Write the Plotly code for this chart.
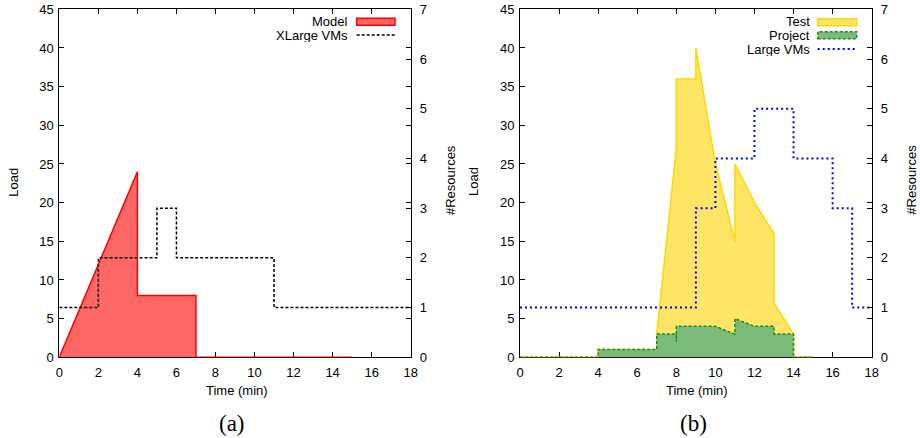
import plotly.graph_objects as go

# ---------------- data ----------------
# panel (a)
model_t = [0, 4, 4, 7, 7, 15]
model_load = [0, 24, 8, 8, 0, 0]
xlarge_t = [0, 2, 5, 6, 11, 18]
xlarge_vms = [1, 2, 3, 2, 1, 1]

# panel (b)
test_t = [0, 4, 4, 7, 7, 8, 8, 9, 9, 10, 11, 11, 12, 13, 13, 14, 14, 15]
test_load = [0, 0, 1, 1, 3, 27, 36, 36, 40, 25, 15, 25, 20, 16, 7, 3, 0, 0]
project_t = [0, 4, 4, 7, 7, 8, 8, 8, 10, 11, 11, 12, 13, 13, 14, 14, 15]
project_load = [0, 0, 1, 1, 3, 3, 2, 4, 4, 3, 5, 4, 4, 3, 3, 0, 0]
large_t = [0, 9, 10, 12, 14, 16, 17, 18]
large_vms = [1, 3, 4, 5, 4, 3, 1, 1]

x_ticks = list(range(0, 19, 2))
load_ticks = list(range(0, 46, 5))
res_ticks = list(range(0, 8))

# ---------------- layout helpers ----------------
W, H = 920, 438
FONT = "Liberation Sans, Arial, Helvetica, sans-serif"
SERIF = "Liberation Serif, Times New Roman, serif"


def px(x):
    return x / W


def py(y):
    return 1 - y / H


PLOT_TOP, PLOT_BOT = 9.3, 357.3
A_L, A_R = 59.3, 410.7
B_L, B_R = 520.0, 871.7

RED_LINE = "#ff0000"
RED_FILL = "#ff6666"
GOLD_LINE = "#ffd700"
GOLD_FILL = "#ffe566"
GREEN_LINE = "#1f8a1f"
GREEN_FILL = "#7aba7a"
BLUE = "#0000ff"

fig = go.Figure()

fig.add_trace(go.Scatter(x=model_t, y=model_load, mode="lines", fill="tozeroy",
                         fillcolor=RED_FILL, line=dict(color=RED_LINE, width=1.5),
                         xaxis="x", yaxis="y", showlegend=False))
fig.add_trace(go.Scatter(x=xlarge_t, y=xlarge_vms, mode="lines",
                         line=dict(color="black", width=1.5, dash="3px,2px", shape="hv"),
                         xaxis="x", yaxis="y2", showlegend=False))

fig.add_trace(go.Scatter(x=test_t, y=test_load, mode="lines", fill="tozeroy",
                         fillcolor=GOLD_FILL, line=dict(color=GOLD_LINE, width=1.5),
                         xaxis="x2", yaxis="y3", showlegend=False))
fig.add_trace(go.Scatter(x=project_t, y=project_load, mode="lines", fill="tozeroy",
                         fillcolor=GREEN_FILL,
                         line=dict(color=GREEN_LINE, width=1.5, dash="3px,2px"),
                         xaxis="x2", yaxis="y3", showlegend=False))
fig.add_trace(go.Scatter(x=large_t, y=large_vms, mode="lines",
                         line=dict(color=BLUE, width=2, dash="2px,3px", shape="hv"),
                         xaxis="x2", yaxis="y4", showlegend=False))

ydom = [py(PLOT_BOT), py(PLOT_TOP)]
tickfont = dict(family=FONT, size=13, color="black")

common_x = dict(range=[0, 18], tickvals=x_ticks, ticks="inside", ticklen=5,
                showline=True, linecolor="black", linewidth=1, mirror="ticks",
                showgrid=False, zeroline=False, tickfont=tickfont, layer="below traces",
                automargin=False, tickcolor="black", ticklabelstandoff=3)
common_y = dict(range=[0, 45], tickvals=load_ticks, ticks="inside", ticklen=5,
                showline=True, linecolor="black", linewidth=1, mirror="ticks",
                showgrid=False, zeroline=False, tickfont=tickfont, domain=ydom,
                layer="below traces", automargin=False, tickcolor="black",
                ticklabelstandoff=2)
common_y2 = dict(range=[0, 7], tickvals=res_ticks, ticks="inside", ticklen=5,
                 side="right", showline=False, showgrid=False, zeroline=False,
                 tickfont=tickfont, layer="below traces", automargin=False,
                 tickcolor="black", ticklabelstandoff=8)

fig.update_layout(
    template="none",
    width=W, height=H,
    margin=dict(l=0, r=0, t=0, b=0),
    paper_bgcolor="white", plot_bgcolor="white",
    showlegend=False,
    xaxis=dict(domain=[px(A_L), px(A_R)], anchor="y", **common_x),
    yaxis=dict(anchor="x", **common_y),
    yaxis2=dict(overlaying="y", anchor="x", **common_y2),
    xaxis2=dict(domain=[px(B_L), px(B_R)], anchor="y3", **common_x),
    yaxis3=dict(anchor="x2", **common_y),
    yaxis4=dict(overlaying="y3", anchor="x2", **common_y2),
)

ann = []
shapes = []


def text(x, y, s, size=13, family=FONT, angle=0, xanchor="center", height=None):
    a = dict(x=px(x), y=py(y), xref="paper", yref="paper", text=s,
             showarrow=False, textangle=angle, xanchor=xanchor, yanchor="middle",
             font=dict(family=family, size=size, color="black"))
    if height is not None:
        a.update(height=height, borderpad=0, valign="middle")
    ann.append(a)


# axis titles
text(236.7, 390, "Time (min)")
text(697, 390, "Time (min)")
text(12.7, 182, "Load", angle=-90)
text(473, 182, "Load", angle=-90)
text(450, 180, "#Resources", angle=-90)
text(910.7, 180, "#Resources", angle=-90)
# panel captions
text(232, 423, "(a)", size=23, family=SERIF)
text(693, 423, "(b)", size=23, family=SERIF)

# legends (drawn manually to mimic gnuplot key)
LH = 13
text(348.5, 21.2, "Model", xanchor="right", height=LH)
text(348.5, 35.6, "XLarge VMs", xanchor="right", height=LH)
shapes.append(dict(type="rect", xref="paper", yref="paper",
                   x0=px(356.7), x1=px(395), y0=py(25.3), y1=py(18.3),
                   fillcolor=RED_FILL, line=dict(color=RED_LINE, width=1.5)))
shapes.append(dict(type="line", xref="paper", yref="paper",
                   x0=px(356.7), x1=px(395), y0=py(35), y1=py(35),
                   line=dict(color="black", width=1.5, dash="3px,2px")))

text(810.5, 21.2, "Test", xanchor="right", height=LH)
text(810.5, 35.6, "Project", xanchor="right", height=LH)
text(810.5, 49.2, "Large VMs", xanchor="right", height=LH)
shapes.append(dict(type="rect", xref="paper", yref="paper",
                   x0=px(817.7), x1=px(856.7), y0=py(25.8), y1=py(18.8),
                   fillcolor=GOLD_FILL, line=dict(color=GOLD_LINE, width=1.5)))
shapes.append(dict(type="rect", xref="paper", yref="paper",
                   x0=px(817.7), x1=px(856.7), y0=py(38.8), y1=py(31.8),
                   fillcolor=GREEN_FILL, line=dict(color=GREEN_LINE, width=1.5, dash="3px,2px")))
shapes.append(dict(type="line", xref="paper", yref="paper",
                   x0=px(817.7), x1=px(856.7), y0=py(49), y1=py(49),
                   line=dict(color=BLUE, width=2, dash="2px,3px")))

fig.update_layout(annotations=ann, shapes=shapes)

fig.write_html("out.html",
               config={"displayModeBar": False},
               post_script="document.body.style.margin='0';"
                           "document.documentElement.style.overflow='hidden';")
